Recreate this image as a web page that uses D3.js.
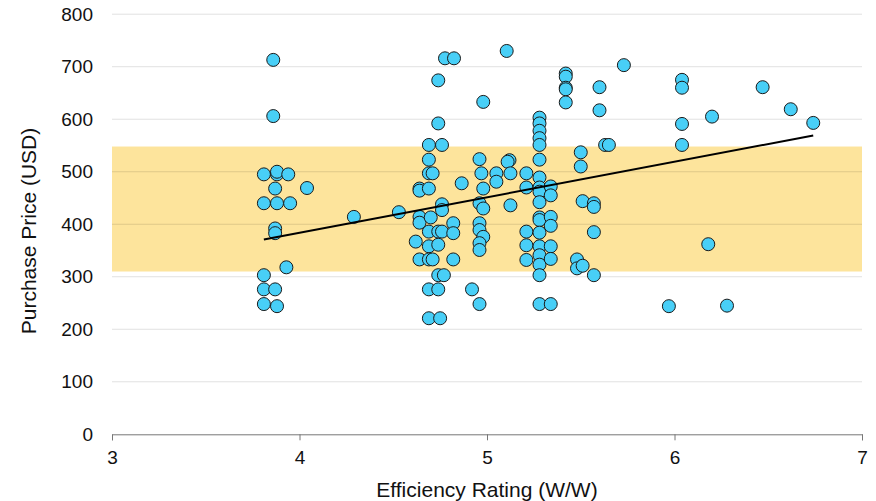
<!DOCTYPE html>
<html>
<head>
<meta charset="utf-8">
<script src="https://cdn.jsdelivr.net/npm/d3@7"></script>
<style>
  html, body { margin: 0; padding: 0; background: #fff; }
  svg { display: block; font-family: "Liberation Sans", Arial, sans-serif; }
</style>
</head>
<body>
<svg id="chart" width="876" height="501"></svg>
<script>
// ---- data ----
const efficiency = [
  3.81,3.81,3.81,3.81,3.81,
  3.86,3.86,3.88,3.88,3.87,3.88,3.87,3.87,3.87,3.88,
  3.94,3.95,3.93,
  4.04,4.29,4.53,4.62,
  4.64,4.64,4.64,4.64,4.64,
  4.69,4.69,4.69,4.71,4.69,4.69,4.69,4.69,4.71,4.69,4.69,4.70,
  4.74,4.74,4.74,4.74,4.74,4.74,4.75,
  4.776,4.76,4.76,4.76,4.76,4.77,
  4.824,4.82,4.82,4.82,
  4.865,4.92,
  4.98,4.96,4.97,4.98,4.96,4.98,4.96,4.96,4.98,4.96,4.96,4.96,
  5.05,5.05,5.105,
  5.12,5.11,5.125,5.125,
  5.21,5.21,5.21,5.21,5.21,
  5.28,5.28,5.28,5.28,5.28,5.28,5.28,5.28,5.28,5.28,5.28,5.28,5.28,5.28,5.28,5.28,5.28,5.28,
  5.34,5.34,5.34,5.34,5.34,5.34,5.34,
  5.42,5.42,5.42,5.42,5.42,
  5.50,5.50,5.51,5.48,5.48,5.51,
  5.57,5.57,5.57,5.57,
  5.60,5.60,5.63,5.65,5.73,
  5.97,6.04,6.04,6.04,6.04,6.18,6.20,6.28,6.47,6.62,6.74
];
const price = [
  495,440,303,276,248,
  713,606,495,500,468,440,392,383,276,244,
  495,440,318,
  469,414,423,367,
  468,464,414,403,333,
  551,523,497,497,468,386,358,333,333,276,221,413,
  674,592,386,361,303,276,221,
  716,551,438,427,386,303,
  716,402,383,333,
  478,276,
  633,524,497,468,440,430,402,389,376,364,351,248,
  497,481,730,
  522,519,497,436,
  497,470,386,360,332,
  603,592,578,564,551,523,489,470,462,442,413,408,384,358,341,323,303,248,
  472,455,414,397,358,334,248,
  687,681,660,657,632,
  537,510,444,333,316,321,
  440,433,385,303,
  661,617,551,551,703,
  244,675,660,591,551,362,605,245,661,619,593
];
const xTicks = [3, 4, 5, 6, 7];
const yTicks = [0, 100, 200, 300, 400, 500, 600, 700, 800];
const bandRange = [310, 548];          // shaded price range
const trendX = [3.81, 6.74];           // trend line ends
const trendY = [371, 569];
const xTitle = "Efficiency Rating (W/W)";
const yTitle = "Purchase Price (USD)";

// ---- layout ----
const W = 876, H = 501;
const m = { left: 112, right: 14, top: 14.2, bottom: 66.7 };
const svg = d3.select("#chart");
const x = d3.scaleLinear().domain([3, 7]).range([m.left, W - m.right]);
const y = d3.scaleLinear().domain([0, 800]).range([H - m.bottom, m.top]);

// band
svg.append("rect")
  .attr("x", x(3)).attr("width", x(7) - x(3))
  .attr("y", y(bandRange[1])).attr("height", y(bandRange[0]) - y(bandRange[1]))
  .attr("fill", "#fde49c");

// gridlines
svg.append("g").selectAll("line").data(yTicks.filter(d => d > 0)).join("line")
  .attr("x1", x(3)).attr("x2", x(7))
  .attr("y1", d => y(d)).attr("y2", d => y(d))
  .attr("stroke", "#000").attr("stroke-opacity", 0.12).attr("stroke-width", 1);

// y tick labels
svg.append("g").selectAll("text").data(yTicks).join("text")
  .attr("x", m.left - 19).attr("y", d => y(d)).attr("dy", "0.35em")
  .attr("text-anchor", "end").attr("font-size", 19).attr("fill", "#111")
  .text(d => d);

// x axis
const xAxis = d3.axisBottom(x).tickValues(xTicks).tickSize(6).tickPadding(10).tickFormat(d3.format("d"));
const gx = svg.append("g").attr("transform", `translate(0,${y(0)})`).call(xAxis);
gx.select(".domain").attr("stroke", "#777");
gx.selectAll(".tick line").attr("stroke", "#777");
gx.selectAll(".tick text").attr("font-size", 19).attr("fill", "#111")
  .attr("font-family", "Liberation Sans, Arial, sans-serif");

// titles
svg.append("text").attr("x", (x(3) + x(7)) / 2).attr("y", 497)
  .attr("text-anchor", "middle").attr("font-size", 21).attr("fill", "#111").text(xTitle);
svg.append("text").attr("transform", `translate(36,231) rotate(-90)`)
  .attr("text-anchor", "middle").attr("font-size", 21).attr("fill", "#111").text(yTitle);

// points
const pts = efficiency.map((e, i) => ({ e, p: price[i] }));
svg.append("g").selectAll("circle").data(pts).join("circle")
  .attr("cx", d => x(d.e)).attr("cy", d => y(d.p)).attr("r", 6.5)
  .attr("fill", "#48cff7").attr("stroke", "#1a1a1a").attr("stroke-width", 1);

// trend line
svg.append("line")
  .attr("x1", x(trendX[0])).attr("y1", y(trendY[0]))
  .attr("x2", x(trendX[1])).attr("y2", y(trendY[1]))
  .attr("stroke", "#000").attr("stroke-width", 2);
</script>
</body>
</html>
